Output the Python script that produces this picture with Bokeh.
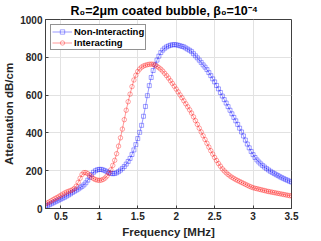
from bokeh.plotting import figure
from bokeh.models import Range1d, FixedTicker, Legend, LegendItem, ColumnDataSource
from bokeh.embed import file_html
from bokeh.resources import INLINE

freq = [
    0.300, 0.325, 0.350, 0.375, 0.400, 0.425, 0.450, 0.475,
    0.500, 0.525, 0.550, 0.575, 0.600, 0.625, 0.650, 0.675,
    0.700, 0.725, 0.750, 0.775, 0.800, 0.825, 0.850, 0.875,
    0.900, 0.925, 0.950, 0.975, 1.000, 1.025, 1.050, 1.075,
    1.100, 1.125, 1.150, 1.175, 1.200, 1.225, 1.250, 1.275,
    1.300, 1.325, 1.350, 1.375, 1.400, 1.425, 1.450, 1.475,
    1.500, 1.525, 1.550, 1.575, 1.600, 1.625, 1.650, 1.675,
    1.700, 1.725, 1.750, 1.775, 1.800, 1.825, 1.850, 1.875,
    1.900, 1.925, 1.950, 1.975, 2.000, 2.025, 2.050, 2.075,
    2.100, 2.125, 2.150, 2.175, 2.200, 2.225, 2.250, 2.275,
    2.300, 2.325, 2.350, 2.375, 2.400, 2.425, 2.450, 2.475,
    2.500, 2.525, 2.550, 2.575, 2.600, 2.625, 2.650, 2.675,
    2.700, 2.725, 2.750, 2.775, 2.800, 2.825, 2.850, 2.875,
    2.900, 2.925, 2.950, 2.975, 3.000, 3.025, 3.050, 3.075,
    3.100, 3.125, 3.150, 3.175, 3.200, 3.225, 3.250, 3.275,
    3.300, 3.325, 3.350, 3.375, 3.400, 3.425, 3.450, 3.475,
    3.500,
]

non_interacting = [
    12, 15, 20, 25, 30, 35, 40, 45,
    50, 55, 60, 66, 72, 78, 85, 91,
    97, 103, 110, 117, 125, 136, 150, 165,
    180, 192, 200, 205, 207, 207, 204, 200,
    195, 190, 186, 184, 185, 189, 195, 203,
    212, 222, 235, 249, 265, 286, 310, 338,
    370, 403, 440, 488, 540, 597, 650, 693,
    730, 760, 785, 806, 825, 838, 848, 855,
    860, 864, 866, 867, 866, 864, 861, 858,
    855, 849, 843, 837, 830, 819, 808, 797,
    785, 773, 760, 748, 735, 719, 703, 686,
    670, 651, 633, 614, 595, 576, 558, 539,
    520, 501, 482, 464, 445, 425, 405, 384,
    362, 341, 321, 302, 285, 270, 257, 246,
    236, 227, 219, 211, 204, 197, 191, 185,
    179, 174, 168, 163, 158, 153, 149, 144,
    140,
]

interacting = [
    25, 30, 35, 41, 47, 53, 58, 64,
    70, 76, 82, 87, 91, 95, 99, 106,
    118, 138, 160, 180, 190, 190, 184, 175,
    166, 158, 153, 150, 149, 150, 154, 161,
    172, 186, 205, 228, 255, 290, 330, 374,
    420, 470, 520, 565, 605, 645, 680, 705,
    725, 738, 748, 754, 758, 761, 763, 764,
    763, 758, 752, 745, 737, 727, 715, 703,
    690, 676, 662, 647, 632, 617, 601, 586,
    570, 554, 538, 522, 505, 485, 465, 445,
    425, 405, 385, 365, 345, 325, 306, 288,
    270, 254, 238, 224, 210, 199, 189, 180,
    172, 165, 159, 153, 148, 143, 138, 133,
    128, 123, 118, 114, 110, 107, 105, 102,
    100, 97, 95, 92, 90, 88, 86, 84,
    82, 80, 78, 76, 74, 72, 70, 68,
    67,
]

x_ticks = [0.5, 1, 1.5, 2, 2.5, 3, 3.5]
x_tick_labels = ["0.5", "1", "1.5", "2", "2.5", "3", "3.5"]
y_ticks = [0, 200, 400, 600, 800, 1000]

FONT = "Liberation Sans"
AX = "#404040"

src = ColumnDataSource(dict(f=freq, a=non_interacting, b=interacting))

p = figure(width=312, height=240, output_backend="svg", toolbar_location=None,
           x_range=Range1d(0.3, 3.5), y_range=Range1d(0, 1000),
           min_border_left=43, min_border_right=21, min_border_top=0,
           min_border_bottom=5)

p.title.text = "R\u2080=2\u03bcm coated bubble, \u03b2\u2080=10\u207b\u2074"
p.title.text_font = FONT
p.title.text_font_size = "12.5px"
p.title.text_font_style = "bold"
p.title.text_color = "#000000"
p.title.align = "left"
p.title.offset = 25
p.title.standoff = 3

p.outline_line_color = AX
p.outline_line_width = 1
p.background_fill_color = "white"
p.border_fill_color = "white"

for ax in (p.xaxis[0], p.yaxis[0]):
    ax.axis_line_color = AX
    ax.major_tick_line_color = AX
    ax.major_tick_in = 3
    ax.major_tick_out = 0
    ax.minor_tick_line_color = None
    ax.major_label_text_font = FONT
    ax.major_label_text_font_size = "10px"
    ax.major_label_text_font_style = "bold"
    ax.major_label_text_color = "#262626"
    ax.major_label_standoff = 3
    ax.axis_label_text_font = FONT
    ax.axis_label_text_font_size = "11.5px"
    ax.axis_label_text_font_style = "bold"
    ax.axis_label_text_color = "#262626"
    ax.axis_label_standoff = 3

p.xaxis[0].ticker = FixedTicker(ticks=x_ticks)
p.xaxis[0].major_label_overrides = {t: s for t, s in zip(x_ticks, x_tick_labels)}
p.yaxis[0].ticker = FixedTicker(ticks=y_ticks)
p.xaxis[0].axis_label = "Frequency [MHz]"
p.yaxis[0].axis_label = "Attenuation dB/cm"
p.yaxis[0].axis_label_standoff = 2

p.xgrid.ticker = FixedTicker(ticks=x_ticks)
p.ygrid.ticker = FixedTicker(ticks=y_ticks)
p.xgrid.grid_line_color = "#e2e2e2"
p.ygrid.grid_line_color = "#e2e2e2"

l1 = p.line("f", "a", source=src, line_color="#0000ff", line_width=0.5, line_alpha=0.8)
s1 = p.scatter("f", "a", source=src, marker="square", size=4,
               line_color="#0000ff", line_width=0.6, fill_color=None, line_alpha=0.6)
l2 = p.line("f", "b", source=src, line_color="#ff0000", line_width=0.5, line_alpha=0.8)
s2 = p.scatter("f", "b", source=src, marker="circle", size=4.5,
               line_color="#ff0000", line_width=0.6, fill_color=None, line_alpha=0.6)

legend = Legend(items=[LegendItem(label="Non-Interacting", renderers=[l1, s1]),
                       LegendItem(label="Interacting", renderers=[l2, s2])],
                location="top_left")
legend.margin = 5
legend.padding = 1
legend.spacing = 0
legend.glyph_width = 20
legend.glyph_height = 11
legend.label_height = 11
legend.label_standoff = 2
legend.label_text_font = FONT
legend.label_text_font_size = "9.5px"
legend.label_text_font_style = "bold"
legend.label_text_color = "#000000"
legend.border_line_color = "#262626"
legend.border_line_width = 1
legend.background_fill_color = "white"
legend.background_fill_alpha = 1
p.add_layout(legend)

open("out.html", "w").write(file_html(p, INLINE))
